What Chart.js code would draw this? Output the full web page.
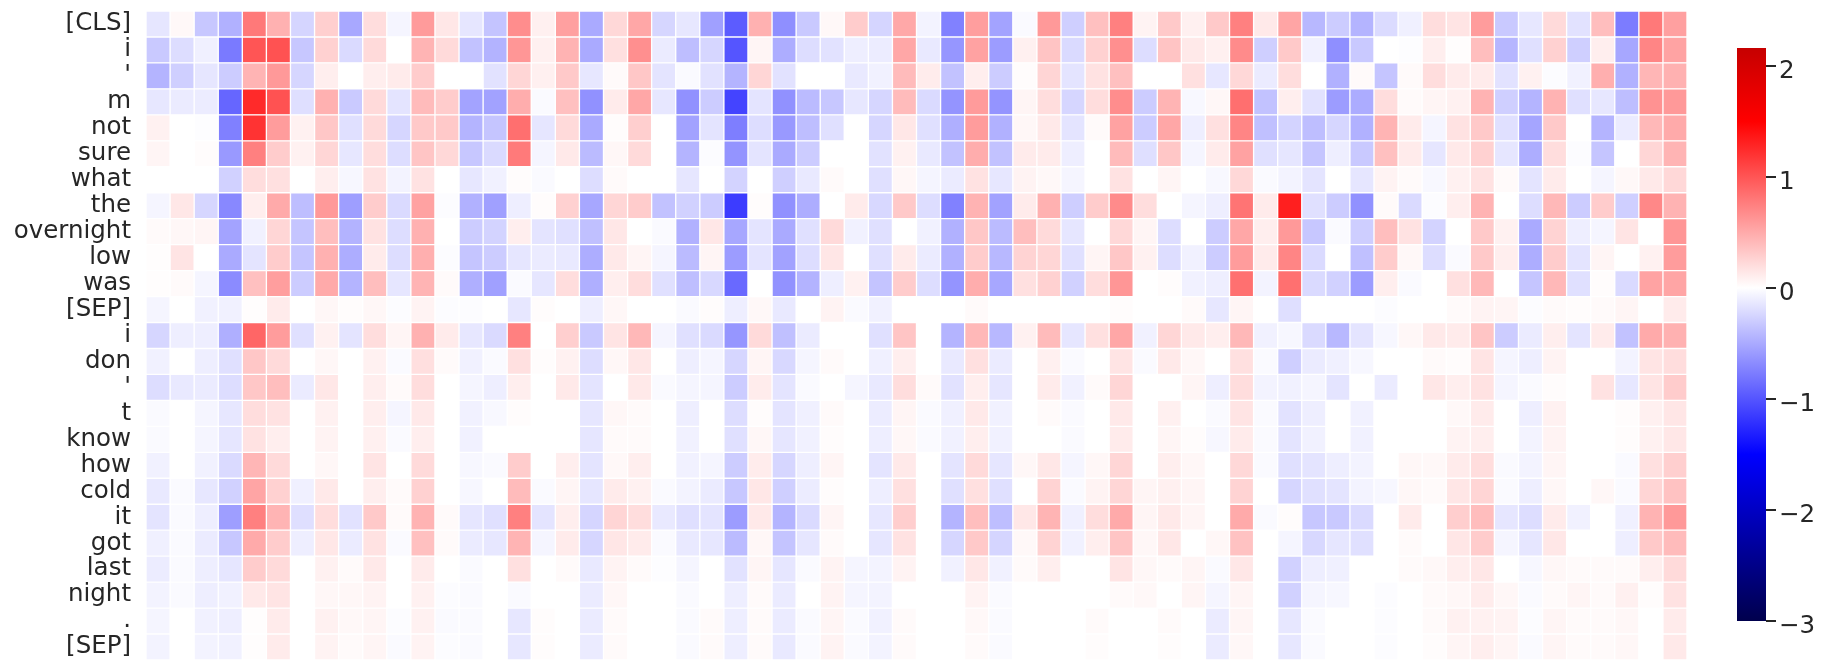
<!DOCTYPE html>
<html>
<head>
<meta charset="utf-8">
<title>Token heatmap</title>
<script src="https://cdn.jsdelivr.net/npm/chart.js@4/dist/chart.umd.min.js"></script>
<style>
  html, body { margin: 0; background: #fff; }
  #wrap { position: relative; width: 1831px; height: 670px; overflow: hidden; }
  canvas { position: absolute; top: 0; }
  #heat { left: 0; }
  #bar { left: 1690px; }
</style>
</head>
<body>
<div id="wrap">
  <canvas id="heat" width="1690" height="670"></canvas>
  <canvas id="bar" width="141" height="670"></canvas>
</div>
<script>
const tokens = ["[CLS]", "i", "'", "m", "not", "sure", "what", "the", "overnight", "low", "was", "[SEP]", "i", "don", "'", "t", "know", "how", "cold", "it", "got", "last", "night", ".", "[SEP]"];
const barTicks = [2, 1, 0, -1, -2, -3];

// one array per token, 64 values each
const rowCls = [-.15,.04,-.33,-.46,.79,.46,-.25,.28,-.51,.2,-.06,.59,.14,-.15,-.35,.67,.09,.56,-.5,.23,
  .52,-.24,-.14,-.56,-.96,.46,-.66,-.32,.04,.3,-.25,.51,-.07,-.74,.57,-.54,-.03,.6,-.28,.37,.75,.07,.32,.09,.32,
  .75,.13,.53,-.42,-.3,-.44,-.21,-.09,.2,.16,.58,-.32,-.14,.22,-.17,.38,-.77,.79,.56];
const rowI = [-.32,-.2,-.09,-.78,1,1.02,-.33,.27,-.22,.22,0,.44,.22,-.36,-.45,.62,.09,.45,-.5,.18,
  .66,-.12,-.38,-.24,-1,.06,-.48,-.2,-.17,-.1,-.11,.52,-.13,-.62,.55,-.58,.09,.35,-.22,.27,.66,-.2,.35,.13,.09,
  .68,-.28,.32,-.08,-.66,-.32,0,-.01,.1,.01,.38,-.43,-.18,.27,-.28,.1,-.52,.72,.54];
const rowApos = [-.44,-.28,-.15,-.3,.44,.6,-.24,.1,0,.1,.12,.3,0,0,-.17,.24,.09,.32,-.14,.03,
  .33,-.16,-.03,-.17,-.44,.24,-.17,0,0,-.13,-.08,.4,.11,-.36,.1,-.3,.02,.25,-.16,.17,.37,0,0,.18,-.14,
  .23,-.12,.2,0,-.46,.03,-.34,.03,.2,.12,.12,-.17,.08,-.02,-.08,.47,-.46,.43,.46];
const rowM = [-.14,-.12,-.11,-.9,1.25,1.02,-.19,.46,-.31,.22,-.16,.4,.3,-.54,-.55,.48,-.03,.37,-.65,.12,
  .52,-.14,-.65,-.3,-1.1,-.16,-.65,-.4,-.33,-.14,-.24,.4,-.22,-.63,.59,-.63,.06,.2,-.24,.2,.67,-.3,.44,-.04,.05,
  .85,-.36,.1,-.17,-.58,-.49,.2,.03,.06,.08,.45,-.28,-.44,.45,-.18,-.14,-.38,.64,.6];
const rowNot = [.08,0,-.01,-.75,1.2,.58,.08,.33,-.18,.22,-.24,.32,.32,-.44,-.34,.85,-.15,.22,-.5,.02,
  .28,0,-.55,-.16,-.76,-.2,-.6,-.38,-.18,0,-.24,.14,-.18,-.47,.58,-.46,.05,.13,-.16,.03,.55,-.3,.52,-.1,.18,
  .72,-.37,-.26,-.38,-.24,-.46,.44,.12,-.06,.17,.32,-.18,-.53,.32,0,-.44,-.12,.42,.5];
const rowSure = [.06,0,.02,-.6,.75,.3,.08,.24,-.14,.2,-.2,.34,.23,-.33,-.22,.78,-.06,.13,-.4,.05,
  .22,0,-.44,-.02,-.63,-.16,-.5,-.3,0,0,-.17,.08,-.13,-.36,.48,-.36,.12,.12,-.1,0,.4,-.19,.33,-.06,.12,
  .55,-.18,-.15,-.34,-.1,-.32,.37,.12,-.15,.13,.27,-.15,-.48,.2,-.02,-.34,0,.24,.44];
const rowWhat = [0,0,0,-.27,.2,.18,0,.1,-.05,.17,-.07,.17,0,-.14,-.08,.02,-.03,0,-.2,.03,
  0,0,-.15,0,-.26,0,-.28,-.13,.03,0,-.18,.05,-.06,-.12,.17,-.14,.07,.04,-.06,0,.17,0,.06,0,-.04,
  .23,-.03,-.07,-.16,0,-.15,.07,.03,-.04,.08,.17,.03,-.16,.12,0,-.06,.04,.13,.23];
const rowThe = [-.06,.14,-.24,-.7,.1,.5,-.38,.6,-.57,.3,-.22,.55,-.02,-.46,-.56,-.1,.02,.27,-.52,.24,
  .3,-.36,-.27,-.3,-1.15,.02,-.65,-.48,0,.12,-.23,.32,-.2,-.74,.45,-.55,.12,.46,-.29,.3,.68,.2,0,-.06,-.1,
  .82,.12,1.32,-.18,-.3,-.65,.03,-.22,-.02,.1,.45,0,-.2,.42,-.3,.3,-.28,.7,.45];
const rowOvernight = [.03,.05,.06,-.54,-.08,.24,-.34,.38,-.45,.17,-.2,.46,0,-.3,-.26,.1,-.16,-.18,-.37,.14,
  0,-.03,-.46,.14,-.52,-.16,-.5,-.18,.22,-.08,-.18,0,-.08,-.46,.33,-.4,.38,.22,-.15,0,.23,.06,-.2,0,-.3,
  .52,.1,.6,-.33,-.03,-.29,.38,.17,-.26,0,.32,.08,-.5,.26,-.1,-.06,.16,0,.62];
const rowLow = [.01,.16,0,-.5,-.16,.3,-.34,.46,-.48,.12,-.2,.47,-.02,-.34,-.3,-.15,-.12,-.13,-.48,.13,
  .06,-.06,-.4,.06,-.58,-.16,-.55,-.2,.15,0,-.18,.12,-.12,-.46,.3,-.42,.26,.24,-.18,.06,.33,.08,-.2,-.08,-.3,
  .58,.12,.72,-.22,0,-.37,.3,.04,-.2,-.03,.32,.1,-.48,.3,-.16,.06,0,.08,.58];
const rowWas = [.01,.03,-.06,-.68,.37,.57,-.3,.5,-.44,.38,-.15,.44,.03,-.47,-.56,-.03,-.15,.2,-.47,.1,
  .2,-.18,-.38,-.23,-.88,0,-.64,-.45,-.1,.08,-.35,.3,-.2,-.63,.48,-.52,.18,.27,-.27,.2,.62,0,.02,-.08,-.1,
  .84,-.07,.84,-.22,-.27,-.58,.1,-.03,0,.18,.42,0,-.34,.42,-.18,.02,-.22,.54,.53];
const rowSep1 = [-.06,0,-.08,-.08,.01,.12,0,.05,.02,.05,-.02,.07,-.02,-.02,0,-.14,.02,0,-.1,.05,
  0,0,-.03,.02,-.1,.04,-.13,0,.07,-.03,-.08,0,0,0,.03,0,0,0,0,0,.02,0,0,.03,-.14,
  .06,0,-.19,0,0,0,-.02,0,0,.03,.07,.06,-.02,.03,.02,.03,.06,0,.12];
const rowI2 = [-.24,-.1,-.1,-.47,.9,.58,-.18,.08,-.16,.2,.06,.46,.12,-.14,-.22,.75,0,.28,-.32,.16,
  .42,-.06,-.18,-.22,-.62,.22,-.37,-.12,0,0,-.18,.34,0,-.44,.42,-.42,.08,.4,-.15,.18,.52,-.08,.24,.13,.1,
  .42,-.08,-.05,-.22,-.42,-.16,-.05,.05,.13,.12,.34,-.3,-.12,.1,-.16,.12,-.36,.5,.46];
const rowDon = [-.08,0,-.1,-.18,.33,.22,0,.05,0,.08,-.03,.19,.03,-.08,-.03,.18,.02,.08,-.2,.05,
  .14,0,-.1,-.06,-.24,.06,-.23,-.06,.03,0,-.09,.1,0,-.13,.18,-.12,0,.09,-.03,0,.16,-.03,.13,.05,0,
  .18,-.03,-.28,-.12,-.09,-.05,0,0,.03,.02,.16,-.06,-.1,.07,0,0,-.07,.16,.2];
const rowApos2 = [-.2,-.13,-.12,-.2,.33,.38,-.12,.14,0,.1,.03,.2,0,-.06,-.1,.1,0,.13,-.16,0,
  .13,-.03,-.06,-.06,-.3,.11,-.16,-.03,0,-.06,-.13,.2,.03,-.17,.1,-.15,0,.12,-.08,.03,.24,0,0,.06,-.1,
  .2,-.07,-.08,-.06,-.16,0,-.12,0,.14,.1,.17,-.06,-.03,.02,0,.17,-.14,.16,.3];
const rowT = [-.03,0,-.06,-.14,.2,.17,0,.08,0,.1,-.06,.13,0,-.08,-.04,.02,0,0,-.15,.05,
  .03,0,-.1,0,-.2,.02,-.16,-.09,.03,0,-.11,.06,-.03,-.09,.13,-.08,0,.03,-.03,0,.13,0,.09,0,-.03,
  .16,-.03,-.17,-.1,0,-.08,0,0,0,.04,.12,0,-.1,.08,0,0,.02,.09,.15];
const rowKnow = [-.03,0,-.06,-.15,.17,.1,0,.07,0,.09,-.03,.1,0,-.08,0,0,0,0,-.15,.03,
  .03,0,-.08,0,-.18,.05,-.15,-.08,.02,0,-.1,.05,-.03,-.08,.1,-.08,0,0,-.03,0,.12,0,.06,.02,-.05,
  .12,-.03,-.16,-.08,0,-.08,0,0,0,.07,.1,0,-.07,.07,0,0,.02,.08,.14];
const rowHow = [-.08,0,-.08,-.22,.43,.22,0,.05,0,.16,0,.22,0,-.05,-.03,.3,0,.1,-.16,.04,
  .1,0,-.08,-.06,-.3,.11,-.24,-.1,.06,0,-.16,.13,0,-.16,.22,-.15,.05,.14,-.06,.05,.24,0,.1,.05,0,
  .23,-.03,-.18,-.16,-.1,-.07,0,.05,.04,.12,.2,-.03,-.07,.06,0,0,-.03,.18,.28];
const rowCold = [-.13,-.03,-.14,-.27,.53,.27,-.09,.13,0,.1,.03,.27,0,-.05,0,.4,-.03,.06,-.15,.12,
  .08,-.03,-.07,-.12,-.33,.14,-.28,-.11,.02,0,-.1,.18,0,-.18,.18,-.18,0,.26,-.03,.07,.24,.06,.09,.06,0,
  .26,0,-.24,-.18,-.16,-.07,-.05,.05,.03,.15,.25,-.03,-.1,.05,0,.05,-.03,.25,.36];
const rowIt = [-.16,-.03,-.1,-.57,.75,.44,-.19,.2,-.17,.32,.03,.45,.03,-.15,-.18,.75,-.16,.1,-.25,.25,
  .2,-.13,-.19,-.16,-.58,.13,-.44,-.22,.06,0,-.14,.29,0,-.44,.38,-.38,.14,.44,-.09,.2,.5,.06,.13,.06,0,
  .5,-.03,.02,-.33,-.32,-.22,0,.12,0,.29,.39,-.15,-.2,.12,-.08,0,-.09,.45,.6];
const rowGot = [-.09,-.03,-.12,-.33,.5,.3,-.1,.14,-.12,.17,-.03,.37,.03,-.12,-.14,.44,-.06,.12,-.24,.15,
  .12,-.03,-.13,-.14,-.4,.05,-.35,-.15,.03,0,-.15,.17,0,-.24,.32,-.25,.04,.26,-.08,.1,.34,.05,.14,0,.05,
  .36,0,-.06,-.23,-.15,-.18,0,.03,0,.15,.3,-.06,-.15,.14,0,0,-.1,.32,.4];
const rowLast = [-.11,-.03,-.1,-.15,.3,.22,0,.08,.03,.13,0,.12,0,-.03,0,.18,0,.03,-.13,.07,
  .03,-.01,-.06,0,-.17,.06,-.15,-.03,.07,-.06,-.07,.07,0,-.08,.14,-.08,.03,.1,0,0,.16,.05,.03,.06,-.03,
  .14,0,-.27,-.1,-.09,0,0,.03,.04,.1,.14,0,-.05,.05,.03,.03,.03,.1,.22];
const rowNight = [-.07,-.03,-.1,-.08,.13,.16,0,.05,.05,.07,0,.08,-.02,-.03,0,-.03,0,0,-.12,.05,
  0,0,-.03,0,-.1,.03,-.12,0,.07,-.06,-.07,0,0,0,.07,-.03,0,0,0,0,.03,.04,0,.06,-.06,
  .06,0,-.27,-.06,-.05,0,-.02,0,.03,.05,.11,.05,-.03,.03,.06,.03,.09,.02,.17];
const rowDot = [-.06,0,-.08,-.1,.01,.12,0,.08,.04,.06,-.02,.08,-.03,-.03,0,-.14,.02,0,-.12,.03,
  0,0,-.03,.03,-.1,.03,-.12,-.03,.06,-.03,-.08,.03,0,0,.04,-.03,0,0,0,.03,0,0,.03,0,-.12,
  .06,0,-.14,-.03,0,0,-.02,0,.03,.08,.08,.07,-.02,.06,.03,.03,.05,0,.12];
const rowSep2 = [-.07,0,-.07,-.08,.01,.12,0,.07,.03,.06,-.03,.07,-.02,-.03,0,-.14,.02,0,-.12,.03,
  0,0,-.03,.03,-.1,.03,-.13,-.03,.07,-.03,-.07,.03,0,0,.03,-.03,0,0,0,.02,0,0,.02,0,-.12,
  .05,0,-.14,-.03,0,0,-.02,0,.02,.06,.1,.06,-.03,.06,.03,.03,.05,0,.13];

const rows = [rowCls, rowI, rowApos, rowM, rowNot, rowSure, rowWhat, rowThe, rowOvernight, rowLow, rowWas, rowSep1,
  rowI2, rowDon, rowApos2, rowT, rowKnow, rowHow, rowCold, rowIt, rowGot, rowLast, rowNight, rowDot, rowSep2];

const INK = "#262626";
Chart.defaults.font.family = "'DejaVu Sans', sans-serif";
Chart.defaults.animation = false;

// seismic, re-centred on 0 the way seaborn does it: +-1.5 is pure red / blue
function seismic(v) {
  const t = Math.min(Math.abs(v) / 1.5, 1), c = Math.round(255 * (1 - t));
  return v >= 0 ? `rgb(255,${c},${c})` : `rgb(${c},${c},255)`;
}

// each column of the heatmap is one dataset, stacked left to right with width 1
const columns = rows[0].map((_, c) => ({
  data: rows.map(() => 1),
  backgroundColor: rows.map(r => seismic(r[c])),
  borderColor: "#fff",
  borderWidth: 1,
  borderSkipped: false,
  barPercentage: 1,
  categoryPercentage: 1
}));

new Chart(document.getElementById("heat"), {
  type: "bar",
  data: { labels: tokens, datasets: columns },
  options: {
    indexAxis: "y", responsive: false,
    layout: { padding: { top: 11, bottom: 10, right: 3 } },
    plugins: { legend: { display: false }, tooltip: { enabled: false } },
    scales: {
      x: { stacked: true, min: 0, max: rows[0].length, display: false },
      y: {
        stacked: true,
        afterFit: s => { s.width = 146; s.paddingTop = 0; s.paddingBottom = 0; },
        grid: { display: false }, border: { display: false },
        ticks: { color: INK, padding: 7, autoSkip: false, font: { size: 24.5 } }
      }
    }
  }
});

new Chart(document.getElementById("bar"), {
  type: "bar",
  data: {
    labels: [""],
    datasets: [{
      data: [[-3, 2.16]],
      barPercentage: 1, categoryPercentage: 1,
      backgroundColor: c => {
        const area = c.chart.chartArea, y = c.chart.scales.y;
        if (!area) return "#fff";
        const g = c.chart.ctx.createLinearGradient(0, y.getPixelForValue(-3), 0, y.getPixelForValue(2.16));
        const stop = v => (v + 3) / 5.16;
        g.addColorStop(0, "rgb(0,0,77)");
        g.addColorStop(stop(-1.5), "rgb(0,0,255)");
        g.addColorStop(stop(0), "#fff");
        g.addColorStop(stop(1.5), "rgb(255,0,0)");
        g.addColorStop(1, "rgb(198,0,0)");
        return g;
      }
    }]
  },
  options: {
    responsive: false,
    layout: { padding: { left: 47, top: 48, bottom: 49 } },
    plugins: { legend: { display: false }, tooltip: { enabled: false } },
    scales: {
      x: { display: false },
      y: {
        position: "right", min: -3, max: 2.16,
        afterFit: s => { s.width = 65; s.paddingTop = 0; s.paddingBottom = 0; },
        afterBuildTicks: s => { s.ticks = barTicks.map(value => ({ value })); },
        border: { display: false },
        grid: { drawOnChartArea: false, drawTicks: true, tickLength: 10, color: INK, lineWidth: 2 },
        // empty first line + small lineHeight nudges the label a little below its tick
        ticks: { color: INK, padding: 3, font: { size: 24.5, lineHeight: 0.45 }, callback: v => ["", String(v).replace("-", "\u2212")] }
      }
    }
  }
});
</script>
</body>
</html>
